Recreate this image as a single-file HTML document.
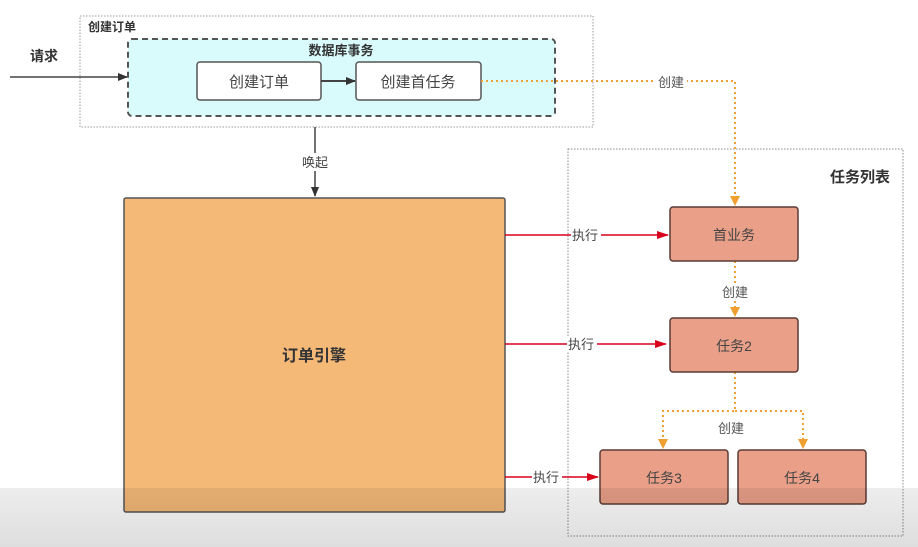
<!DOCTYPE html>
<html><head><meta charset="utf-8"><style>
html,body{margin:0;padding:0;background:#fff;width:918px;height:547px;overflow:hidden}
svg{display:block}
text{font-family:"Liberation Sans","Noto Sans CJK SC",sans-serif}
</style></head><body>
<svg width="918" height="547" viewBox="0 0 918 547" xmlns="http://www.w3.org/2000/svg">
<defs>
<marker id="ab" markerWidth="10" markerHeight="10" refX="9" refY="5" orient="auto" markerUnits="userSpaceOnUse"><path d="M0,1 L10,5 L0,9 Z" fill="#333"/></marker>
<marker id="ar" markerWidth="12" markerHeight="10" refX="11" refY="5" orient="auto" markerUnits="userSpaceOnUse"><path d="M0,1 L12,5 L0,9 Z" fill="#d9001b"/></marker>
<marker id="ao" markerWidth="10" markerHeight="12" refX="9" refY="5" orient="auto" markerUnits="userSpaceOnUse"><path d="M0,0 L10,5 L0,10 Z" fill="#f0a030"/></marker>
<linearGradient id="g" x1="0" y1="0" x2="0" y2="1"><stop offset="0" stop-color="#000" stop-opacity="0.07"/><stop offset="1" stop-color="#000" stop-opacity="0.13"/></linearGradient>
</defs>
<!-- top group -->
<rect x="80" y="16" width="513" height="111" fill="none" stroke="#999" stroke-dasharray="1.5,1.5"/>
<text x="88" y="31" font-size="12" font-weight="bold" fill="#333">创建订单</text>
<rect x="128" y="39" width="427" height="77" rx="4" fill="#d9fbfc" stroke="#555" stroke-width="2" stroke-dasharray="6,4"/>
<text x="341" y="55" font-size="13" font-weight="bold" fill="#333" text-anchor="middle">数据库事务</text>
<rect x="197" y="62" width="124" height="38" rx="3" fill="#fff" stroke="#555" stroke-width="1.5"/>
<text x="259" y="87" font-size="15" fill="#444" text-anchor="middle">创建订单</text>
<rect x="356" y="62" width="125" height="38" rx="3" fill="#fff" stroke="#555" stroke-width="1.5"/>
<text x="418" y="87" font-size="15" fill="#444" text-anchor="middle">创建首任务</text>
<line x1="321" y1="81" x2="355" y2="81" stroke="#444" stroke-width="2" marker-end="url(#ab)"/>
<text x="30" y="61" font-size="14" font-weight="bold" fill="#333">请求</text>
<line x1="10" y1="77" x2="127" y2="77" stroke="#444" stroke-width="1.5" marker-end="url(#ab)"/>
<line x1="315" y1="127" x2="315" y2="196" stroke="#444" stroke-width="1.5" marker-end="url(#ab)"/>
<rect x="298" y="153" width="34" height="18" fill="#fff"/>
<text x="315" y="167" font-size="13" fill="#444" text-anchor="middle">唤起</text>
<!-- engine -->
<rect x="124" y="198" width="381" height="314" rx="2" fill="#f4b877" stroke="#555" stroke-width="1.5"/>
<text x="314" y="361" font-size="16" font-weight="bold" fill="#333" text-anchor="middle">订单引擎</text>
<!-- task list -->
<rect x="568" y="149" width="335" height="387" fill="none" stroke="#888" stroke-dasharray="1.5,1.5"/>
<text x="890" y="182" font-size="15" font-weight="bold" fill="#333" text-anchor="end">任务列表</text>
<!-- orange create -->
<polyline points="481,81 735,81 735,205" fill="none" stroke="#f0a030" stroke-width="2" stroke-dasharray="2,3" marker-end="url(#ao)"/>
<rect x="655" y="73" width="32" height="17" fill="#fff"/>
<text x="671" y="87" font-size="13" fill="#555" text-anchor="middle">创建</text>
<line x1="735" y1="261" x2="735" y2="316" stroke="#f0a030" stroke-width="2" stroke-dasharray="2,3" marker-end="url(#ao)"/>
<rect x="719" y="283" width="32" height="17" fill="#fff"/>
<text x="735" y="297" font-size="13" fill="#555" text-anchor="middle">创建</text>
<polyline points="735,372 735,411 663,411 663,448" fill="none" stroke="#f0a030" stroke-width="2" stroke-dasharray="2,3" marker-end="url(#ao)"/>
<polyline points="735,411 803,411 803,448" fill="none" stroke="#f0a030" stroke-width="2" stroke-dasharray="2,3" marker-end="url(#ao)"/>
<text x="731" y="433" font-size="13" fill="#555" text-anchor="middle">创建</text>
<!-- tasks -->
<g fill="#e99f88" stroke="#5a3a36" stroke-width="1.5">
<rect x="670" y="207" width="128" height="54" rx="3"/>
<rect x="670" y="318" width="128" height="54" rx="3"/>
<rect x="600" y="450" width="128" height="54" rx="3"/>
<rect x="738" y="450" width="128" height="54" rx="3"/>
</g>
<g font-size="14" fill="#444" text-anchor="middle">
<text x="734" y="240">首业务</text>
<text x="734" y="351">任务2</text>
<text x="664" y="483">任务3</text>
<text x="802" y="483">任务4</text>
</g>
<!-- red arrows -->
<g stroke="#d9001b" stroke-width="1.5">
<line x1="505" y1="235" x2="668" y2="235" marker-end="url(#ar)"/>
<line x1="505" y1="344" x2="666" y2="344" marker-end="url(#ar)"/>
<line x1="505" y1="477" x2="598" y2="477" marker-end="url(#ar)"/>
</g>
<g font-size="13" fill="#444">
<rect x="571" y="227" width="30" height="16" fill="#fff"/>
<text x="572" y="240">执行</text>
<rect x="567" y="336" width="30" height="16" fill="#fff"/>
<text x="568" y="349">执行</text>
<rect x="532" y="469" width="30" height="16" fill="#fff"/>
<text x="533" y="482">执行</text>
</g>
<rect x="0" y="488" width="918" height="59" fill="url(#g)"/>
</svg>
</body></html>
